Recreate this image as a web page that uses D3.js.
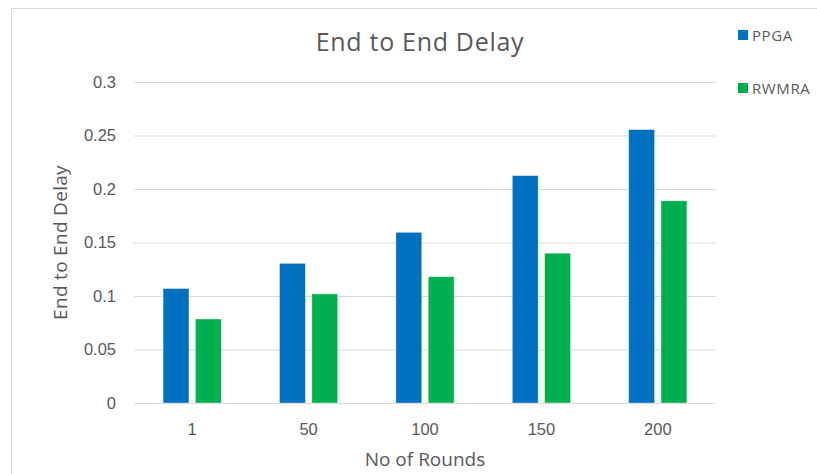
<!DOCTYPE html>
<html>
<head>
<meta charset="utf-8">
<script src="https://cdn.jsdelivr.net/npm/d3@7"></script>
<style>
  html, body { margin: 0; padding: 0; background: #fff; }
  svg { display: block; font-family: "Open Sans", "Noto Sans", sans-serif; }
</style>
</head>
<body>
<svg id="chart" width="817" height="474"></svg>
<script>
// Rounds on the x axis and delay values per routing scheme
const rounds = ["1", "50", "100", "150", "200"];
const seriesNames = ["PPGA", "RWMRA"];
const ppga = [0.107, 0.1305, 0.1595, 0.2125, 0.2555];
const rwmra = [0.0785, 0.102, 0.118, 0.140, 0.189];
const yTicks = [0, 0.05, 0.1, 0.15, 0.2, 0.25, 0.3];
const colors = ["#0070C0", "#00B050"];

const svg = d3.select("#chart");
const W = 817, H = 474;
const plot = { left: 134, right: 716, top: 82, bottom: 403 };
const textColor = "#595959";

// Outer chart frame
svg.append("rect")
  .attr("x", 11.5).attr("y", 8.5)
  .attr("width", W + 10).attr("height", H + 10)
  .attr("fill", "#fff").attr("stroke", "#D9D9D9").attr("stroke-width", 1);

const x = d3.scaleBand().domain(rounds).range([plot.left, plot.right]).paddingInner(0).paddingOuter(0);
const y = d3.scaleLinear().domain([0, 0.3]).range([plot.bottom, plot.top]);
const groupWidth = x.bandwidth() * 0.5;
const xs = d3.scaleBand().domain(seriesNames).range([0, groupWidth]).paddingInner(0.2);

// Horizontal gridlines with tick labels
const yAxis = d3.axisLeft(y).tickValues(yTicks).tickSize(-(plot.right - plot.left))
  .tickPadding(18).tickFormat(d => d === 0 ? "0" : String(d));
const gy = svg.append("g").attr("transform", `translate(${plot.left},0)`).call(yAxis);
gy.select(".domain").remove();
gy.selectAll(".tick line").attr("stroke", "#D9D9D9").attr("stroke-width", 1);
gy.selectAll(".tick text").attr("fill", textColor).style("font-size", "16.5px");

// Bars
const data = rounds.map((r, i) => ({ r, vals: [ppga[i], rwmra[i]] }));
const groups = svg.append("g").selectAll("g").data(data).join("g")
  .attr("transform", d => `translate(${x(d.r) + (x.bandwidth() - groupWidth) / 2},0)`);
groups.selectAll("rect").data(d => d.vals.map((v, k) => ({ v, k })))
  .join("rect")
  .attr("x", d => xs(seriesNames[d.k]))
  .attr("width", xs.bandwidth())
  .attr("y", d => y(d.v))
  .attr("height", d => y(0) - y(d.v))
  .attr("fill", d => colors[d.k])
  .attr("stroke", "#ffffff").attr("stroke-opacity", 0.5).attr("stroke-width", 0.75);

// Category axis labels
const xAxis = d3.axisBottom(x).tickSize(0).tickPadding(20);
const gx = svg.append("g").attr("transform", `translate(0,${plot.bottom})`).call(xAxis);
gx.select(".domain").remove();
gx.selectAll(".tick text").attr("fill", textColor).style("font-size", "16.5px");

// Title and axis titles
svg.append("text").attr("x", 420).attr("y", 51).attr("text-anchor", "middle")
  .attr("fill", textColor).style("font-size", "25px").style("letter-spacing", "0.7px")
  .text("End to End Delay");
svg.append("text").attr("x", 425).attr("y", 466).attr("text-anchor", "middle")
  .attr("fill", textColor).style("font-size", "19px").text("No of Rounds");
svg.append("text").attr("transform", `translate(67,${(plot.top + plot.bottom) / 2}) rotate(-90)`)
  .attr("text-anchor", "middle").attr("fill", textColor).style("font-size", "19px")
  .style("letter-spacing", "0.3px").text("End to End Delay");

// Legend
const legend = svg.append("g").selectAll("g").data(seriesNames).join("g")
  .attr("transform", (d, i) => `translate(738,${30 + i * 53})`);
legend.append("rect").attr("width", 10).attr("height", 10).attr("fill", (d, i) => colors[i]);
legend.append("text").attr("x", 14).attr("y", 10.5).attr("fill", textColor)
  .style("font-size", "15px").style("letter-spacing", "0.6px").text(d => d);
</script>
</body>
</html>
